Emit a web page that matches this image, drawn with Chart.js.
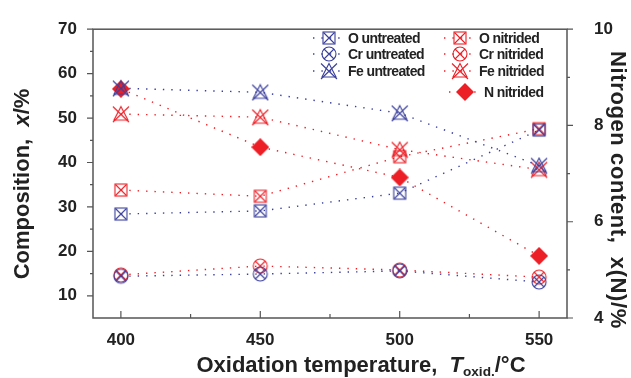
<!DOCTYPE html>
<html>
<head>
<meta charset="utf-8">
<script src="https://cdn.jsdelivr.net/npm/chart.js@4/dist/chart.umd.min.js"></script>
<style>
  body { margin: 0; background: #fff; }
  #wrap { width: 631px; height: 378px; position: relative; }
</style>
</head>
<body>
<div id="wrap"><canvas id="chart"></canvas></div>
<script>
// data
const temps = [400, 450, 500, 550];
const oUntreated = [28.4, 29.1, 33.1, 47.3];
const oNitrided = [33.8, 32.4, 41.3, 47.6];
const crUntreated = [14.4, 14.9, 15.6, 13.1];
const crNitrided = [14.7, 16.7, 15.8, 14.2];
const feUntreated = [56.7, 55.8, 51.1, 39.3];
const feNitrided = [50.9, 50.2, 42.9, 38.4];
const nNitrided = [8.76, 7.55, 6.92, 5.29];

const xTicks = [400, 450, 500, 550];
const xMinor = [425, 475, 525];
const leftTicks = [10, 20, 30, 40, 50, 60, 70];
const leftMinor = [15, 25, 35, 45, 55, 65];
const rightTicks = [4, 6, 8, 10];
const rightMinor = [5, 7, 9];

const BLUE = '#3a3f9c';
const RED = '#ec1f26';
const AXIS = '#555';
const FONT = '"Liberation Sans", Arial, sans-serif';

// marker images
function makeMarker(kind, color) {
    const s = 18;
    const c = document.createElement('canvas');
    c.width = s; c.height = s;
    const g = c.getContext('2d');
    g.strokeStyle = color;
    g.fillStyle = color;
    g.lineWidth = 1.1;
    const a = 2.5, b = s - 2.5;
    if (kind === 'sq') {
        g.strokeRect(a + 0.5, a + 0.5, b - a - 1, b - a - 1);
        g.beginPath();
        g.moveTo(a + 1, a + 1); g.lineTo(b - 1, b - 1);
        g.moveTo(b - 1, a + 1); g.lineTo(a + 1, b - 1);
        g.stroke();
    } else if (kind === 'ci') {
        g.beginPath();
        g.arc(s / 2, s / 2, 7, 0, Math.PI * 2);
        g.stroke();
        g.beginPath();
        g.moveTo(4, 4); g.lineTo(s - 4, s - 4);
        g.moveTo(s - 4, 4); g.lineTo(4, s - 4);
        g.stroke();
    } else if (kind === 'tr') {
        g.beginPath();
        g.moveTo(s / 2, 1.5); g.lineTo(s - 2, s - 3); g.lineTo(2, s - 3); g.closePath();
        g.stroke();
        g.beginPath();
        g.moveTo(1, 1.5); g.lineTo(s - 1, s - 1);
        g.moveTo(s - 1, 1.5); g.lineTo(1, s - 1);
        g.stroke();
    } else if (kind === 'di') {
        g.beginPath();
        g.moveTo(s / 2, 0); g.lineTo(s, s / 2); g.lineTo(s / 2, s); g.lineTo(0, s / 2); g.closePath();
        g.fill();
    }
    return c;
}

function series(label, values, color, kind, axis) {
    return {
        label: label,
        data: values.map((v, i) => ({ x: temps[i], y: v })),
        borderColor: color,
        backgroundColor: color,
        borderWidth: 1.4,
        borderDash: [1.4, 7],
        pointStyle: makeMarker(kind, color),
        pointRadius: 9,
        pointHoverRadius: 9,
        yAxisID: axis,
        fill: false,
        tension: 0
    };
}

const datasets = [
    series('O untreated', oUntreated, BLUE, 'sq', 'y'),
    series('Cr untreated', crUntreated, BLUE, 'ci', 'y'),
    series('Fe untreated', feUntreated, BLUE, 'tr', 'y'),
    series('O nitrided', oNitrided, RED, 'sq', 'y'),
    series('Cr nitrided', crNitrided, RED, 'ci', 'y'),
    series('Fe nitrided', feNitrided, RED, 'tr', 'y'),
    series('N nitrided', nNitrided, RED, 'di', 'y1')
];

// legend slots: [x of line start, y]
const legendPos = [
    [313, 38], [313, 54], [313, 71],
    [444, 38], [444, 54], [444, 71], [449, 92]
];

// draw text made of pieces (normal / italic / subscript)
function drawRich(ctx, parts, size, cx, cy, angle, spacing) {
    ctx.save();
    ctx.translate(cx, cy);
    ctx.rotate(angle);
    ctx.textBaseline = 'middle';
    ctx.fillStyle = '#222';
    ctx.letterSpacing = (spacing || 0) + 'px';
    let total = 0;
    parts.forEach(p => {
        const fs = p.sub ? size * 0.62 : size;
        ctx.font = (p.it ? 'italic ' : '') + 'bold ' + fs + 'px ' + FONT;
        p.w = ctx.measureText(p.t).width;
        total += p.w;
    });
    let x = -total / 2;
    parts.forEach(p => {
        const fs = p.sub ? size * 0.62 : size;
        ctx.font = (p.it ? 'italic ' : '') + 'bold ' + fs + 'px ' + FONT;
        ctx.textAlign = 'left';
        ctx.fillText(p.t, x, p.sub ? size * 0.3 : 0);
        x += p.w;
    });
    ctx.restore();
}

const framePlugin = {
    id: 'frame',
    afterDraw(chart) {
        const ctx = chart.ctx;
        const a = chart.chartArea;
        const sx = chart.scales.x, sy = chart.scales.y, sy1 = chart.scales.y1;
        ctx.save();
        ctx.strokeStyle = AXIS;
        ctx.lineWidth = 1.5;
        ctx.strokeRect(a.left, a.top, a.right - a.left, a.bottom - a.top);
        ctx.lineWidth = 1.2;
        ctx.beginPath();
        xTicks.forEach(v => { const p = sx.getPixelForValue(v); ctx.moveTo(p, a.bottom); ctx.lineTo(p, a.bottom - 7); });
        xMinor.forEach(v => { const p = sx.getPixelForValue(v); ctx.moveTo(p, a.bottom); ctx.lineTo(p, a.bottom - 4); });
        leftTicks.forEach(v => { const p = sy.getPixelForValue(v); ctx.moveTo(a.left, p); ctx.lineTo(a.left - 6, p); });
        leftMinor.forEach(v => { const p = sy.getPixelForValue(v); ctx.moveTo(a.left, p); ctx.lineTo(a.left - 3, p); });
        rightTicks.forEach(v => { const p = sy1.getPixelForValue(v); ctx.moveTo(a.right, p); ctx.lineTo(a.right + 6, p); });
        rightMinor.forEach(v => { const p = sy1.getPixelForValue(v); ctx.moveTo(a.right, p); ctx.lineTo(a.right + 3, p); });
        ctx.stroke();

        // legend
        chart.data.datasets.forEach((ds, i) => {
            const [lx, ly] = legendPos[i];
            ctx.strokeStyle = ds.borderColor;
            ctx.lineWidth = 1.4;
            ctx.setLineDash([1.4, 7]);
            ctx.beginPath();
            ctx.moveTo(lx, ly); ctx.lineTo(lx + 32, ly);
            ctx.stroke();
            ctx.setLineDash([]);
            ctx.drawImage(ds.pointStyle, lx + 16 - 9, ly - 9);
            ctx.fillStyle = '#222';
            ctx.font = 'bold 14px ' + FONT;
            ctx.textBaseline = 'middle';
            ctx.textAlign = 'left';
            ctx.letterSpacing = '-0.6px';
            ctx.fillText(ds.label, lx + 35, ly + 1);
            ctx.letterSpacing = '0px';
        });

        // axis titles
        drawRich(ctx, [{ t: 'Oxidation temperature,  ' }, { t: 'T', it: true }, { t: 'oxid.', sub: true }, { t: '/°C' }],
            22, 361, 366, 0, 0);
        drawRich(ctx, [{ t: 'Composition,  ' }, { t: 'x', it: true }, { t: '/%' }],
            22, 23, 184, -Math.PI / 2, 0);
        drawRich(ctx, [{ t: 'Nitrogen content,  x(N)/%' }],
            22, 617, 190, Math.PI / 2, 0.6);
        ctx.restore();
    }
};

const tickFont = { family: FONT, size: 17, weight: 'bold' };

new Chart(document.getElementById('chart'), {
    type: 'line',
    data: { datasets: datasets },
    plugins: [framePlugin],
    options: {
        responsive: true,
        maintainAspectRatio: false,
        animation: false,
        layout: { padding: { top: 24, left: 0, right: 0, bottom: 0 } },
        plugins: { legend: { display: false }, tooltip: { enabled: false } },
        scales: {
            x: {
                type: 'linear', min: 390, max: 560,
                grid: { display: false }, border: { display: false },
                afterBuildTicks: s => { s.ticks = xTicks.map(v => ({ value: v })); },
                afterFit: s => { s.height = 60; },
                ticks: { font: tickFont, color: '#222', padding: 4 }
            },
            y: {
                position: 'left', min: 5, max: 70,
                grid: { display: false }, border: { display: false },
                afterBuildTicks: s => { s.ticks = leftTicks.map(v => ({ value: v })); },
                afterFit: s => { s.width = 93; },
                ticks: { font: tickFont, color: '#222', padding: 8 }
            },
            y1: {
                position: 'right', min: 4, max: 10,
                grid: { display: false }, border: { display: false },
                afterBuildTicks: s => { s.ticks = rightTicks.map(v => ({ value: v })); },
                afterFit: s => { s.width = 64; },
                ticks: { font: tickFont, color: '#222', padding: 19 }
            }
        }
    }
});
</script>
</body>
</html>
